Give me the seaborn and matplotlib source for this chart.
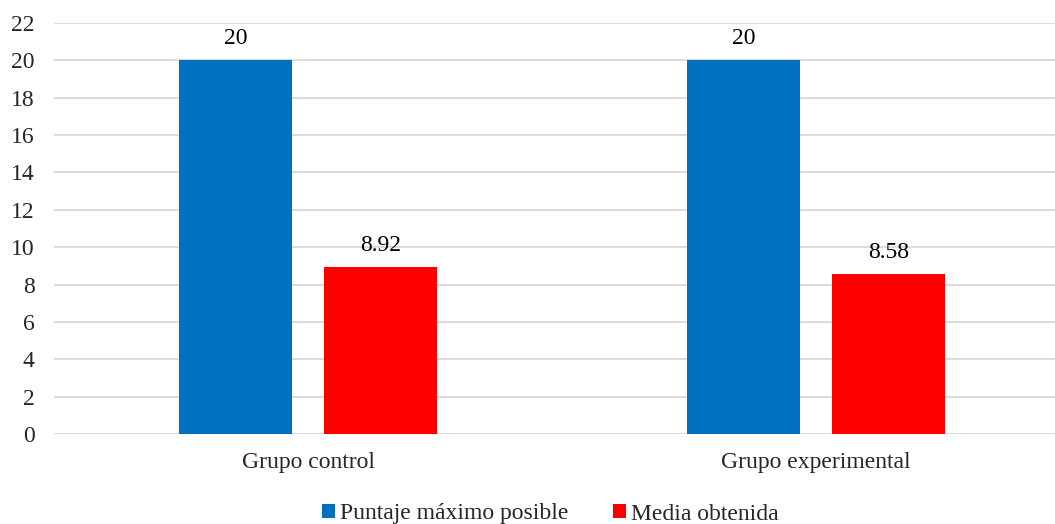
import pandas as pd
import matplotlib.pyplot as plt
import seaborn as sns

# datos
grupos = ["Grupo control", "Grupo experimental"]
series = ["Puntaje máximo posible", "Media obtenida"]
puntaje_max = [20, 20]
media = [8.92, 8.58]
etiquetas = [["20", "20"], ["8.92", "8.58"]]

df = pd.DataFrame({
    "grupo": grupos * 2,
    "serie": [series[0]] * 2 + [series[1]] * 2,
    "valor": puntaje_max + media,
})

sns.set_style("white")
plt.rcParams["font.family"] = ["Liberation Serif", "DejaVu Serif"]
plt.rcParams["font.size"] = 17

fig = plt.figure(figsize=(10.55, 5.24), dpi=100)
ax = fig.add_axes([54 / 1055, 90 / 524, 1016 / 1055, 411 / 524])

sns.barplot(data=df, x="grupo", y="valor", hue="serie",
            palette=["#0070C0", "#FF0000"], width=0.57, gap=0.218,
            saturation=1, linewidth=0, ax=ax, legend=True)

for cont, labs in zip(ax.containers, etiquetas):
    ax.bar_label(cont, labels=labs, padding=8, fontsize=17, color="#000000")

ax.set_ylim(0, 22)
ax.set_xlim(-0.5, 1.5)
ax.set_yticks(range(0, 23, 2))
ax.yaxis.grid(True, color="#D9D9D9", linewidth=1.3)
ax.set_axisbelow(True)
for s in ax.spines.values():
    s.set_visible(False)
ax.tick_params(axis="y", length=0, pad=14, labelsize=17)
ax.tick_params(axis="x", length=0, pad=13, labelsize=17)
ax.set_xlabel("")
ax.set_ylabel("")

ax.legend(loc="center", bbox_to_anchor=(550 / 1055, 10 / 524),
          bbox_transform=fig.transFigure, ncol=2, frameon=False,
          handlelength=0.55, handleheight=0.55, handletextpad=0.2,
          columnspacing=1.9, fontsize=17)

fig.savefig("out.png", dpi=100)
